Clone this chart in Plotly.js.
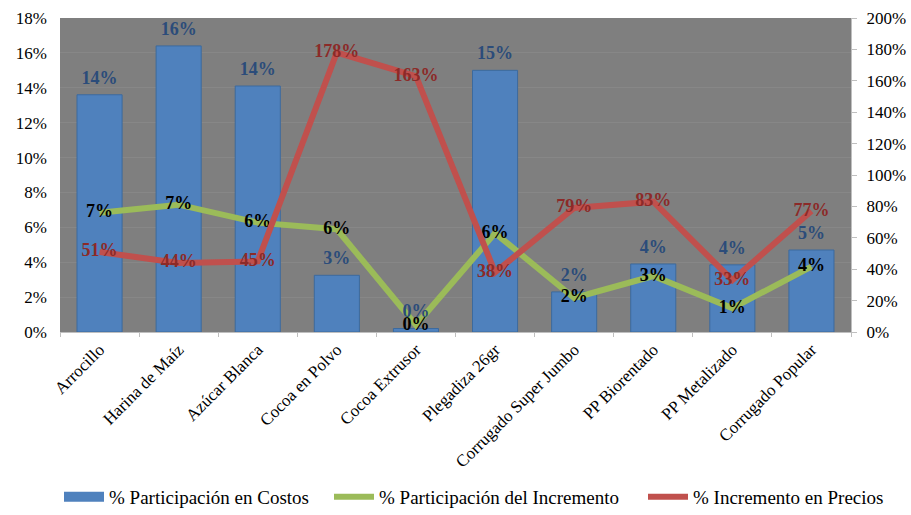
<!DOCTYPE html>
<html>
<head>
<meta charset="utf-8">
<script src="https://cdn.plot.ly/plotly-3.0.1.min.js"></script>
<style>
  html, body { margin: 0; padding: 0; background: #ffffff; }
  #chart { width: 911px; height: 515px; }
</style>
</head>
<body>
<div id="chart"></div>
<script>
// Categorías (insumos)
const categories = [
  "Arrocillo", "Harina de Maíz", "Azúcar Blanca", "Cocoa en Polvo", "Cocoa Extrusor",
  "Plegadiza 26gr", "Corrugado Super Jumbo", "PP Biorentado", "PP Metalizado", "Corrugado Popular"
];

// % Participación en Costos (eje izquierdo)
const participacionCostos = [0.136, 0.164, 0.141, 0.0325, 0.002, 0.150, 0.023, 0.039, 0.0385, 0.047];

// % Participación del Incremento (eje izquierdo)
const participacionIncremento = [0.0684, 0.073, 0.0627, 0.0589, 0.004, 0.0567, 0.0195, 0.0321, 0.0137, 0.0375];

// % Incremento en Precios (eje derecho)
const incrementoPrecios = [0.51, 0.44, 0.45, 1.78, 1.63, 0.38, 0.79, 0.83, 0.33, 0.77];

// Nombres de las series
const seriesNames = ["% Participación en Costos", "% Participación del Incremento", "% Incremento en Precios"];

const serif = "Liberation Serif";
const pct = v => Math.round(v * 100) + "%";

const traces = [
  {
    type: "bar",
    name: seriesNames[0],
    showlegend: false,
    x: categories,
    y: participacionCostos,
    yaxis: "y",
    marker: { color: "#4F81BD", line: { color: "#3C6A9E", width: 1 } },
    hoverinfo: "x+y"
  },
  // Entrada de leyenda de las barras, con muestra rectangular ancha
  {
    type: "scatter",
    mode: "lines",
    name: seriesNames[0],
    legend: "legend",
    x: [null],
    y: [null],
    yaxis: "y",
    line: { color: "#4F81BD", width: 10 },
    hoverinfo: "skip"
  },
  {
    type: "scatter",
    mode: "lines",
    name: seriesNames[1],
    legend: "legend2",
    x: categories,
    y: participacionIncremento,
    yaxis: "y",
    line: { color: "#9BBB59", width: 6 },
    hoverinfo: "x+y"
  },
  {
    type: "scatter",
    mode: "lines",
    name: seriesNames[2],
    legend: "legend3",
    x: categories,
    y: incrementoPrecios,
    yaxis: "y2",
    line: { color: "#C0504D", width: 6 },
    hoverinfo: "x+y"
  },
  // Etiquetas de datos, dibujadas encima de todas las series
  {
    type: "scatter",
    mode: "markers+text",
    showlegend: false,
    x: categories,
    y: participacionCostos,
    yaxis: "y",
    marker: { size: 9, color: "rgba(0,0,0,0)" },
    text: participacionCostos.map(pct),
    textposition: "top center",
    cliponaxis: false,
    textfont: { family: serif, size: 18, color: "#2B4C7A", weight: "bold" },
    hoverinfo: "skip"
  },
  {
    type: "scatter",
    mode: "text",
    showlegend: false,
    x: categories,
    y: participacionIncremento,
    yaxis: "y",
    text: participacionIncremento.map(pct),
    textposition: "middle center",
    cliponaxis: false,
    textfont: { family: serif, size: 18, color: "#000000", weight: "bold" },
    hoverinfo: "skip"
  },
  {
    type: "scatter",
    mode: "text",
    showlegend: false,
    x: categories,
    y: incrementoPrecios,
    yaxis: "y2",
    text: incrementoPrecios.map(pct),
    textposition: "middle center",
    cliponaxis: false,
    textfont: { family: serif, size: 18, color: "#8C2A28", weight: "bold" },
    hoverinfo: "skip"
  }
];

// Leyenda en una fila: una caja por serie
const legendBox = x => ({
  orientation: "h",
  xref: "container",
  yref: "container",
  x: x,
  xanchor: "left",
  y: 0.035,
  yanchor: "middle",
  font: { family: serif, size: 19, color: "#000000" },
  itemwidth: 40,
  bgcolor: "rgba(0,0,0,0)"
});

const layout = {
  width: 911,
  height: 515,
  margin: { l: 60, r: 60, t: 18, b: 183 },
  paper_bgcolor: "#ffffff",
  plot_bgcolor: "#7F7F7F",
  bargap: 0.43,
  showlegend: true,
  font: { family: serif, size: 17, color: "#000000" },
  xaxis: {
    type: "category",
    range: [-0.5, categories.length - 0.5],
    tickangle: -45,
    tickfont: { family: serif, size: 17, color: "#000000" },
    showgrid: false,
    showline: true,
    linecolor: "#BFBFBF",
    linewidth: 1,
    ticks: "outside",
    tickson: "boundaries",
    ticklen: 4,
    tickcolor: "#BFBFBF",
    zeroline: false,
    automargin: false,
    fixedrange: true
  },
  yaxis: {
    range: [0, 0.18],
    dtick: 0.02,
    tickformat: ".0%",
    tickfont: { family: serif, size: 17, color: "#000000" },
    showgrid: true,
    gridcolor: "#878787",
    gridwidth: 1,
    zeroline: false,
    showline: false,
    ticks: "",
    ticklabelstandoff: 12,
    automargin: false,
    fixedrange: true
  },
  yaxis2: {
    range: [0, 2.0],
    dtick: 0.2,
    tickformat: ".0%",
    overlaying: "y",
    side: "right",
    tickfont: { family: serif, size: 17, color: "#000000" },
    showgrid: false,
    zeroline: false,
    showline: true,
    linecolor: "#BFBFBF",
    ticks: "outside",
    ticklen: 5,
    tickcolor: "#BFBFBF",
    ticklabelstandoff: 6,
    automargin: false,
    fixedrange: true
  },
  legend: legendBox(59 / 911),
  legend2: legendBox(329 / 911),
  legend3: legendBox(643 / 911)
};

Plotly.newPlot("chart", traces, layout, { displayModeBar: false, staticPlot: true });
</script>
</body>
</html>
